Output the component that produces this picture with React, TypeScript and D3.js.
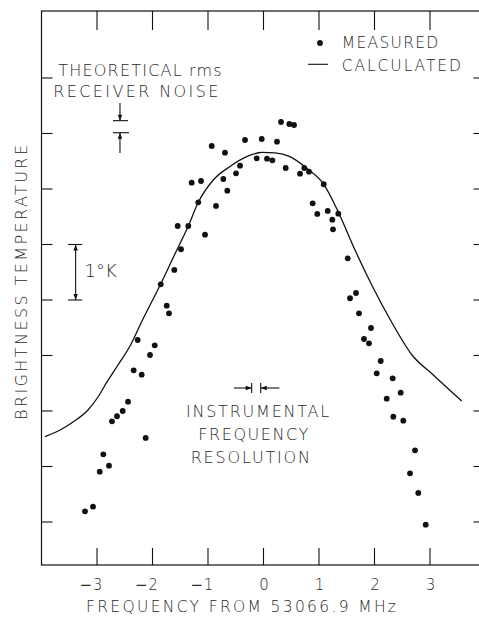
import React, { useEffect, useRef } from "react";
import * as d3 from "d3";

// measured points (MHz offset, relative brightness in K)
const measuredFreq = [
  -3.216, -3.072, -2.951, -2.886, -2.784, -2.73, -2.64, -2.537, -2.441, -2.339,
  -2.267, -2.195, -2.123, -2.045, -1.96, -1.852, -1.744, -1.703, -1.607, -1.546,
  -1.486, -1.355, -1.294, -1.175, -1.126, -1.054, -0.933, -0.856, -0.724, -0.694,
  -0.652, -0.495, -0.423, -0.333, -0.123, -0.032, 0.063, 0.159, 0.243, 0.315,
  0.465, 0.55, 0.4, 0.658, 0.735, 0.82, 1.085, 0.886, 0.969, 1.157,
  1.348, 1.24, 1.252, 1.517, 1.667, 1.559, 1.721, 1.937, 1.811, 1.901,
  2.112, 2.04, 2.328, 2.472, 2.22, 2.339, 2.519, 2.73, 2.64, 2.789, 2.923,
];
const measuredTemp = [
  0.193, 0.276, 0.906, 1.22, 1.014, 1.814, 1.905, 2.0, 2.168, 2.733,
  3.279, 2.654, 1.514, 3.009, 3.184, 4.283, 3.897, 3.76, 4.541, 5.333,
  4.914, 5.333, 6.114, 5.76, 6.144, 5.177, 6.775, 5.694, 6.18, 6.654,
  5.969, 6.283, 6.42, 6.883, 6.553, 6.901, 6.546, 6.517, 6.852, 7.207,
  7.171, 7.153, 6.378, 6.276, 6.378, 6.312, 6.085, 5.742, 5.55, 5.604,
  5.555, 5.447, 5.274, 4.751, 4.126, 4.031, 3.76, 3.495, 3.297, 3.22,
  2.901, 2.679, 2.589, 2.33, 2.222, 1.897, 1.825, 1.292, 0.877, 0.523, -0.049,
];

// calculated curve
const calcFreq = [
  -3.937, -3.667, -3.432, -3.162, -2.982, -2.82, -2.622, -2.405, -2.189, -1.852,
  -1.613, -1.355, -1.175, -0.905, -0.604, -0.303, -0.027, 0.207, 0.477, 0.778,
  1.081, 1.351, 1.649, 1.978, 2.297, 2.676, 3.059, 3.571,
];
const calcTemp = [
  1.537, 1.658, 1.802, 2.018, 2.252, 2.523, 2.829, 3.171, 3.622, 4.288,
  4.793, 5.333, 5.76, 6.162, 6.405, 6.582, 6.658, 6.649, 6.582, 6.373,
  6.09, 5.577, 4.901, 4.216, 3.622, 3.009, 2.649, 2.18,
];

const xTickValues = [-3, -2, -1, 0, 1, 2, 3];
const xTickLabels = ["3", "2", "1", "0", "1", "2", "3"];
const yTickValues = [0, 1, 2, 3, 4, 5, 6, 7, 8];

const W = 479;
const H = 623;
const FONT = "'DejaVu Sans', 'Liberation Sans', sans-serif";
const INK = "#111";
const TEXT = "#2a2a2a";

const App = () => {
  const ref = useRef<SVGSVGElement | null>(null);

  useEffect(() => {
    const svg = d3.select(ref.current);
    svg.selectAll("*").remove();

    const x = d3.scaleLinear().domain([-4, 4]).range([41.5, 485.5]);
    const y = d3.scaleLinear().domain([-0.775, 9.207]).range([565, 11]);

    const [x0, x1] = x.range();
    const [yb, yt] = y.range();

    // frame
    svg
      .append("rect")
      .attr("x", x0)
      .attr("y", yt)
      .attr("width", x1 - x0)
      .attr("height", yb - yt)
      .attr("fill", "none")
      .attr("stroke", INK)
      .attr("stroke-width", 1.2);

    // x ticks top and bottom
    const g = svg.append("g").attr("stroke", INK).attr("stroke-width", 1.1);
    xTickValues.forEach((v) => {
      g.append("line").attr("x1", x(v)).attr("x2", x(v)).attr("y1", yt).attr("y2", yt + 19);
      g.append("line").attr("x1", x(v)).attr("x2", x(v)).attr("y1", yb).attr("y2", yb - 17);
    });
    // y ticks left and right
    yTickValues.forEach((v) => {
      g.append("line").attr("x1", x0).attr("x2", x0 + 11).attr("y1", y(v)).attr("y2", y(v));
      g.append("line").attr("x1", x1).attr("x2", x1 - 12).attr("y1", y(v)).attr("y2", y(v));
    });

    // tick labels
    xTickValues.forEach((v, i) => {
      svg
        .append("text")
        .attr("x", x(v) + 0.5)
        .attr("y", 590)
        .attr("text-anchor", "middle")
        .attr("font-family", FONT)
        .attr("font-size", 15)
        .attr("font-weight", 300)
        .attr("fill", TEXT)
        .text(xTickLabels[i]);
      if (v < 0) {
        svg
          .append("text")
          .attr("x", x(v) - 5)
          .attr("y", 590)
          .attr("text-anchor", "end")
          .attr("font-family", FONT)
          .attr("font-size", 15)
          .attr("fill", TEXT)
          .text("\u2212");
      }
    });

    // calculated curve
    const line = d3
      .line<number>()
      .x((d, i) => x(calcFreq[i]))
      .y((d) => y(d))
      .curve(d3.curveMonotoneX);
    svg
      .append("path")
      .datum(calcTemp)
      .attr("fill", "none")
      .attr("stroke", INK)
      .attr("stroke-width", 1.3)
      .attr("d", line);

    // measured points
    svg
      .selectAll("circle.m")
      .data(measuredTemp)
      .enter()
      .append("circle")
      .attr("class", "m")
      .attr("cx", (d, i) => x(measuredFreq[i]))
      .attr("cy", (d) => y(d))
      .attr("r", 2.9)
      .attr("fill", INK);

    // helpers
    const seg = (ax: number, ay: number, bx: number, by: number) =>
      svg
        .append("line")
        .attr("x1", ax)
        .attr("y1", ay)
        .attr("x2", bx)
        .attr("y2", by)
        .attr("stroke", INK)
        .attr("stroke-width", 1.1);
    const head = (tx: number, ty: number, dx: number, dy: number) => {
      // triangle with tip at (tx,ty) pointing along (dx,dy)
      const L = 6;
      const w = 2.2;
      const bx = tx - dx * L;
      const by = ty - dy * L;
      const px = -dy * w;
      const py = dx * w;
      svg
        .append("path")
        .attr("d", `M${tx},${ty}L${bx + px},${by + py}L${bx - px},${by - py}Z`)
        .attr("fill", INK);
    };
    const label = (
      t: string,
      lx: number,
      ly: number,
      size: number,
      len: number | null,
      anchor = "start"
    ) => {
      const el = svg
        .append("text")
        .attr("x", lx)
        .attr("y", ly)
        .attr("text-anchor", anchor)
        .attr("font-family", FONT)
        .attr("font-size", size)
        .attr("font-weight", 300)
        .attr("fill", TEXT)
        .text(t);
      if (len) el.attr("textLength", len).attr("lengthAdjust", "spacing");
      return el;
    };

    // legend
    svg.append("circle").attr("cx", 320).attr("cy", 43).attr("r", 2.9).attr("fill", INK);
    seg(308, 64.3, 328, 64.3);
    label("MEASURED", 341.7, 48.3, 15.5, 96.6);
    label("CALCULATED", 341.7, 71, 15.5, 119.3);

    // receiver noise
    label("THEORETICAL rms", 58.3, 76, 16, 163.4);
    label("RECEIVER NOISE", 53.3, 97.3, 16, 165);
    const nx = x(-2.586);
    const nTop = y(7.231);
    const nBot = y(7.014);
    seg(nx, 103, nx, nTop);
    head(nx, nTop, 0, 1);
    seg(nx - 7, nTop, nx + 8, nTop);
    seg(nx - 7, nBot, nx + 9, nBot);
    seg(nx, 153, nx, nBot);
    head(nx, nBot, 0, -1);

    // 1 K scale bar
    const kx = x(-3.385);
    seg(kx, y(5), kx, y(4));
    head(kx, y(5), 0, -1);
    head(kx, y(4), 0, 1);
    seg(kx - 7.5, y(5), kx + 6.5, y(5));
    seg(kx - 7.5, y(4), kx + 6.5, y(4));
    label("1\u00b0K", 84.5, 276.7, 18, null);

    // instrumental resolution
    const ry = y(2.414);
    const ra = x(-0.213);
    const rb = x(-0.05);
    seg(234, ry, ra, ry);
    head(ra, ry, 1, 0);
    seg(ra, ry - 5, ra, ry + 5);
    seg(rb, ry - 5, rb, ry + 5);
    seg(279.3, ry, rb, ry);
    head(rb, ry, -1, 0);
    label("INSTRUMENTAL", 257.6, 417, 16, 143.3, "middle");
    label("FREQUENCY", 253.3, 440, 16, 110, "middle");
    label("RESOLUTION", 250.3, 462.7, 16, 119.3, "middle");

    // axis titles
    label("FREQUENCY FROM 53066.9 MHz", 241, 612, 15.5, 310, "middle");
    label("BRIGHTNESS TEMPERATURE", 0, 0, 16, 275, "middle").attr(
      "transform",
      "translate(26.5,282.5) rotate(-90)"
    );

    return () => {
      svg.selectAll("*").remove();
    };
  }, []);

  return (
    <svg
      ref={ref}
      width={W}
      height={H}
      style={{ position: "absolute", left: 0, top: 0, background: "#fff" }}
    />
  );
};

export default App;
